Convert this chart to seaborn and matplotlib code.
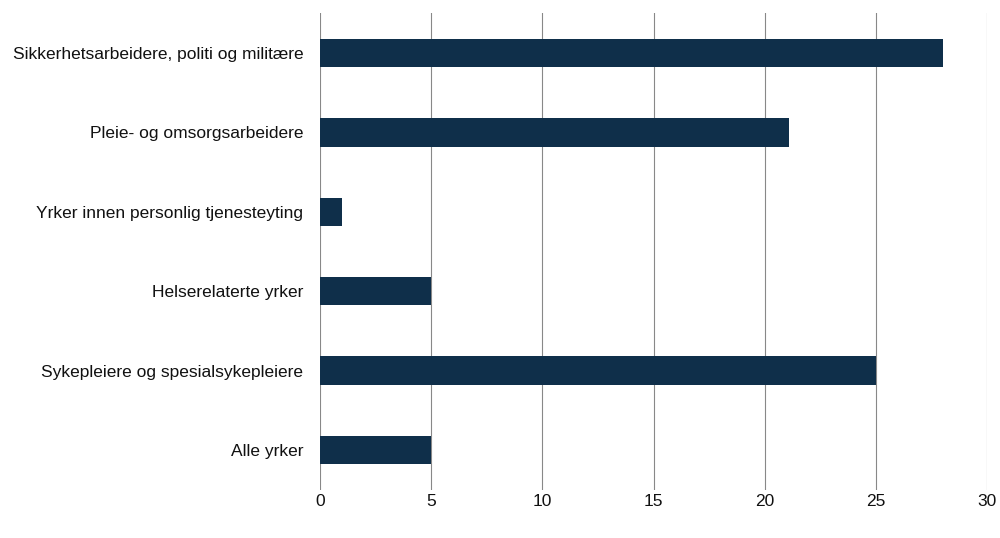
import matplotlib
matplotlib.use("Agg")
import matplotlib.pyplot as plt
import seaborn as sns
import pandas as pd

categories = ["Sikkerhetsarbeidere, politi og militære", "Pleie- og omsorgsarbeidere",
              "Yrker innen personlig tjenesteyting", "Helserelaterte yrker",
              "Sykepleiere og spesialsykepleiere", "Alle yrker"]
values = [28.0, 21.1, 1.0, 5.0, 25.0, 5.0]
xticks = [0, 5, 10, 15, 20, 25, 30]

df = pd.DataFrame({"cat": categories, "val": values})
plt.rcParams["font.family"] = "Liberation Sans"
fig = plt.figure(figsize=(10, 5.38), dpi=100)
ax = fig.add_axes([0.32, 0.09, 0.667, 0.885])
sns.barplot(data=df, x="val", y="cat", color="#0f2f4a", width=0.36, ax=ax, saturation=1)
ax.set_xlim(0, 30)
ax.set_xticks(xticks)
ax.set_xlabel("")
ax.set_ylabel("")
ax.grid(axis="x", color="#888888", linewidth=0.8)
ax.set_axisbelow(True)
for s in ax.spines.values():
    s.set_visible(False)
ax.tick_params(axis="both", length=0, labelsize=12.5, colors="#111111")
ax.tick_params(axis="y", pad=12)
fig.savefig("out.png")
